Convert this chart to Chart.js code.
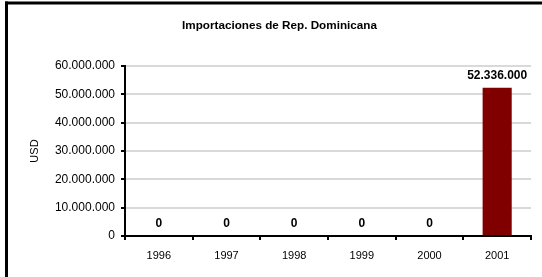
<!DOCTYPE html>
<html>
<head>
<meta charset="utf-8">
<script src="https://cdn.jsdelivr.net/npm/chart.js@4.4.1/dist/chart.umd.min.js"></script>
<style>
  html, body { margin: 0; padding: 0; background: #fff; }
  #wrap { width: 542px; height: 277px; position: relative; }
</style>
</head>
<body>
<div id="wrap"><canvas id="myChart1"></canvas></div>
<script>
var years = ["1996", "1997", "1998", "1999", "2000", "2001"];
var imports_usd = [0, 0, 0, 0, 0, 52336000];
var chart_title = "Importaciones de Rep. Dominicana";
var y_title = "USD";

var font_family = "'Liberation Sans', Arial, sans-serif";

function formatDots(v) {
    return String(Math.round(v)).replace(/\B(?=(\d{3})+(?!\d))/g, ".");
}

// black frame on top / left like the original export
const framePlugin = {
    id: 'frame',
    beforeDraw(chart) {
        const ctx = chart.ctx;
        ctx.save();
        ctx.fillStyle = '#fff';
        ctx.fillRect(0, 0, chart.width, chart.height);
        ctx.fillStyle = '#000';
        ctx.fillRect(5, 1.5, chart.width - 5, 3);
        ctx.fillRect(5, 1.5, 3, chart.height);
        ctx.restore();
    }
};

// value labels above each bar
const valueLabels = {
    id: 'valueLabels',
    afterDatasetsDraw(chart) {
        const ctx = chart.ctx;
        ctx.save();
        ctx.font = "bold 12px " + font_family;
        ctx.fillStyle = '#000';
        ctx.textAlign = 'center';
        ctx.textBaseline = 'middle';
        chart.getDatasetMeta(0).data.forEach(function (bar, i) {
            ctx.fillText(formatDots(imports_usd[i]), bar.x, bar.y - 12);
        });
        ctx.restore();
    }
};

const ctx = document.getElementById("myChart1").getContext('2d');
var myChart = new Chart(ctx, {
    type: 'bar',
    data: {
        labels: years,
        datasets: [{
            label: 'USD',
            data: imports_usd,
            backgroundColor: '#800000',
            borderWidth: 0,
            barPercentage: 0.43,
            categoryPercentage: 1.0
        }]
    },
    options: {
        responsive: true,
        maintainAspectRatio: false,
        animation: false,
        layout: { padding: { left: 28, right: 11, top: 0, bottom: 0 } },
        plugins: {
            legend: { display: false },
            tooltip: { enabled: false },
            title: {
                display: true,
                text: chart_title,
                color: '#000',
                font: { family: font_family, size: 11.7, weight: 'bold' },
                padding: { top: 19, bottom: 33 }
            }
        },
        scales: {
            x: {
                grid: {
                    offset: true,
                    drawOnChartArea: false,
                    tickColor: '#000',
                    tickLength: 4,
                    lineWidth: 2
                },
                border: { color: '#000', width: 2 },
                ticks: {
                    color: '#000',
                    padding: 9,
                    font: { family: font_family, size: 11 }
                },
                afterFit: function (scale) { scale.height = 41; }
            },
            y: {
                min: 0,
                max: 60000000,
                grid: {
                    color: '#d9d9d9',
                    tickColor: '#000',
                    tickLength: 4,
                    lineWidth: 2
                },
                border: { color: '#000', width: 2 },
                ticks: {
                    stepSize: 10000000,
                    color: '#000',
                    padding: 6,
                    font: { family: font_family, size: 12 },
                    callback: function (v) { return formatDots(v); }
                },
                title: {
                    display: true,
                    text: y_title,
                    color: '#000',
                    font: { family: font_family, size: 11 },
                    padding: { top: 0 }
                },
                afterFit: function (scale) { scale.width = 97; }
            }
        }
    },
    plugins: [framePlugin, valueLabels]
});
</script>
</body>
</html>
